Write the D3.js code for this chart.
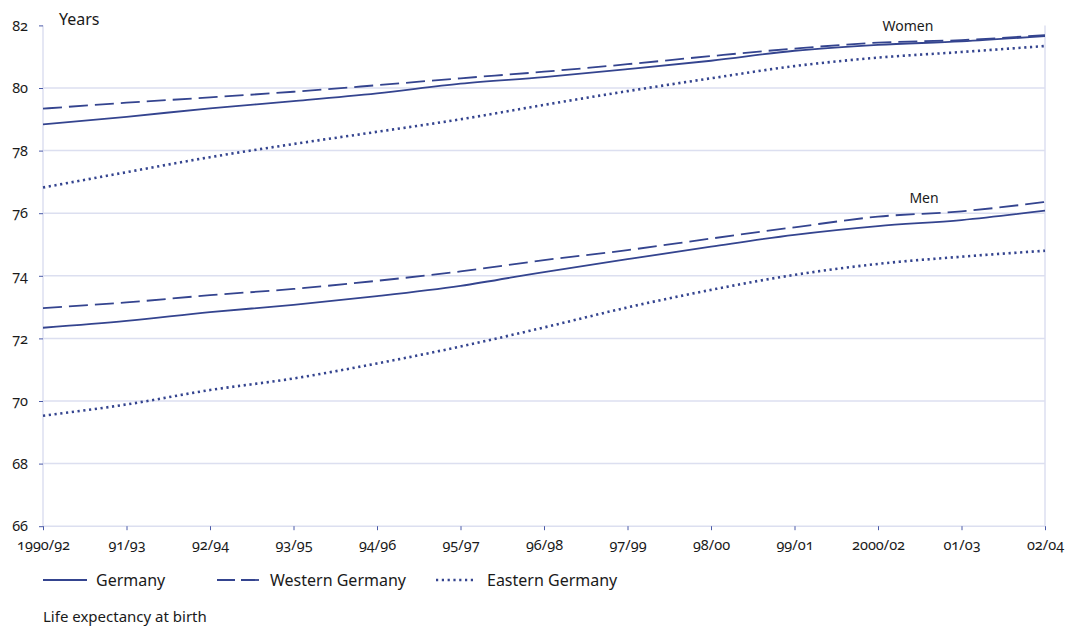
<!DOCTYPE html>
<html>
<head>
<meta charset="utf-8">
<script src="https://cdn.jsdelivr.net/npm/d3@7"></script>
<style>
  body { margin: 0; background: #fff; }
  svg text { font-family: "Noto Sans", "Open Sans", sans-serif; fill: #1a1a1a; font-feature-settings: "onum"; font-variant-numeric: oldstyle-nums; }
</style>
</head>
<body>
<svg id="chart" width="1068" height="626"></svg>
<script>
const periods = ["1990/92","91/93","92/94","93/95","94/96","95/97","96/98","97/99","98/00","99/01","2000/02","01/03","02/04"];
const yTicks = [66, 68, 70, 72, 74, 76, 78, 80, 82];

const womenGermany = [78.84, 79.08, 79.35, 79.58, 79.83, 80.14, 80.35, 80.60, 80.87, 81.19, 81.38, 81.49, 81.66];
const womenWestern = [79.34, 79.53, 79.70, 79.88, 80.09, 80.31, 80.52, 80.76, 81.02, 81.26, 81.45, 81.53, 81.69];
const womenEastern = [76.82, 77.31, 77.79, 78.21, 78.60, 79.00, 79.46, 79.90, 80.31, 80.70, 80.97, 81.15, 81.34];
const menGermany   = [72.34, 72.56, 72.84, 73.07, 73.35, 73.68, 74.12, 74.53, 74.93, 75.31, 75.59, 75.78, 76.08];
const menWestern   = [72.97, 73.15, 73.38, 73.58, 73.84, 74.14, 74.50, 74.82, 75.19, 75.55, 75.89, 76.06, 76.36];
const menEastern   = [69.53, 69.89, 70.35, 70.72, 71.20, 71.74, 72.35, 72.99, 73.55, 74.03, 74.38, 74.61, 74.80];

const seriesNames = ["Germany", "Western Germany", "Eastern Germany"];
const groupLabels = ["Women", "Men"];

const lineColor = "#34448f";
const gridColor = "#dcdff0";
const tickColor = "#4a5aa8";
const dashes = { "Germany": null, "Western Germany": "19,7", "Eastern Germany": "2.2,3.6" };

const svg = d3.select("#chart");
const margin = { left: 43, right: 23, top: 25.4, bottom: 99.8 };
const W = 1068, H = 626;
const x = d3.scalePoint().domain(periods).range([margin.left, W - margin.right]);
const y = d3.scaleLinear().domain([66, 82]).range([H - margin.bottom, margin.top]);

// grid lines
svg.append("g").selectAll("line").data(yTicks.filter(d => d !== 82)).join("line")
  .attr("x1", margin.left).attr("x2", W - margin.right)
  .attr("y1", d => y(d)).attr("y2", d => y(d))
  .attr("stroke", gridColor).attr("stroke-width", 1.5);

// left and right borders
[margin.left, W - margin.right].forEach(px => {
  svg.append("line").attr("x1", px).attr("x2", px)
    .attr("y1", y(82)).attr("y2", y(66))
    .attr("stroke", gridColor).attr("stroke-width", 1.5);
});

// y axis
const yAxis = d3.axisLeft(y).tickValues(yTicks).tickSize(4).tickPadding(11).tickFormat(d3.format("d"));
const gy = svg.append("g").attr("transform", `translate(${margin.left},0)`).call(yAxis);
gy.select(".domain").remove();
gy.selectAll(".tick line").attr("stroke", tickColor).attr("stroke-width", 1);
gy.selectAll(".tick text").attr("font-size", 14.5).style("fill", "#1a1a1a");

// x axis
const xAxis = d3.axisBottom(x).tickSize(4).tickPadding(10);
const gx = svg.append("g").attr("transform", `translate(0,${y(66)})`).call(xAxis);
gx.select(".domain").remove();
gx.selectAll(".tick line").attr("stroke", tickColor).attr("stroke-width", 1);
gx.selectAll(".tick text").attr("font-size", 14.5).style("fill", "#1a1a1a");

// lines
const line = d3.line().x((d, i) => x(periods[i])).y(d => y(d)).curve(d3.curveMonotoneX);
const data = [
  [seriesNames[0], womenGermany], [seriesNames[1], womenWestern], [seriesNames[2], womenEastern],
  [seriesNames[0], menGermany], [seriesNames[1], menWestern], [seriesNames[2], menEastern]
];
data.forEach(([name, vals]) => {
  svg.append("path").datum(vals).attr("d", line)
    .attr("fill", "none").attr("stroke", lineColor)
    .attr("stroke-width", name === "Eastern Germany" ? 2.6 : 1.8)
    .attr("stroke-dasharray", dashes[name]);
});

// group labels
svg.append("text").attr("x", x("2000/02") + 30).attr("y", 31).attr("text-anchor", "middle")
  .attr("font-size", 14).text(groupLabels[0]);
svg.append("text").attr("x", x("2000/02") + 46).attr("y", 203).attr("text-anchor", "middle")
  .attr("font-size", 14).text(groupLabels[1]);

// y title
svg.append("text").attr("x", 59).attr("y", 25).attr("font-size", 16).text("Years");

// legend
const legendItems = [
  { name: seriesNames[0], x0: 43, x1: 87, tx: 96 },
  { name: seriesNames[1], x0: 217, x1: 261, tx: 270 },
  { name: seriesNames[2], x0: 436, x1: 476, tx: 487 }
];
const ly = 580;
legendItems.forEach(it => {
  svg.append("line").attr("x1", it.x0).attr("x2", it.x1).attr("y1", ly).attr("y2", ly)
    .attr("stroke", lineColor)
    .attr("stroke-width", it.name === "Eastern Germany" ? 2.6 : 1.8)
    .attr("stroke-dasharray", it.name === "Western Germany" ? "18,6" : dashes[it.name]);
  svg.append("text").attr("x", it.tx).attr("y", ly + 6).attr("font-size", 16).text(it.name);
});

svg.append("text").attr("x", 43).attr("y", 622).attr("font-size", 15).text("Life expectancy at birth");
</script>
</body>
</html>
